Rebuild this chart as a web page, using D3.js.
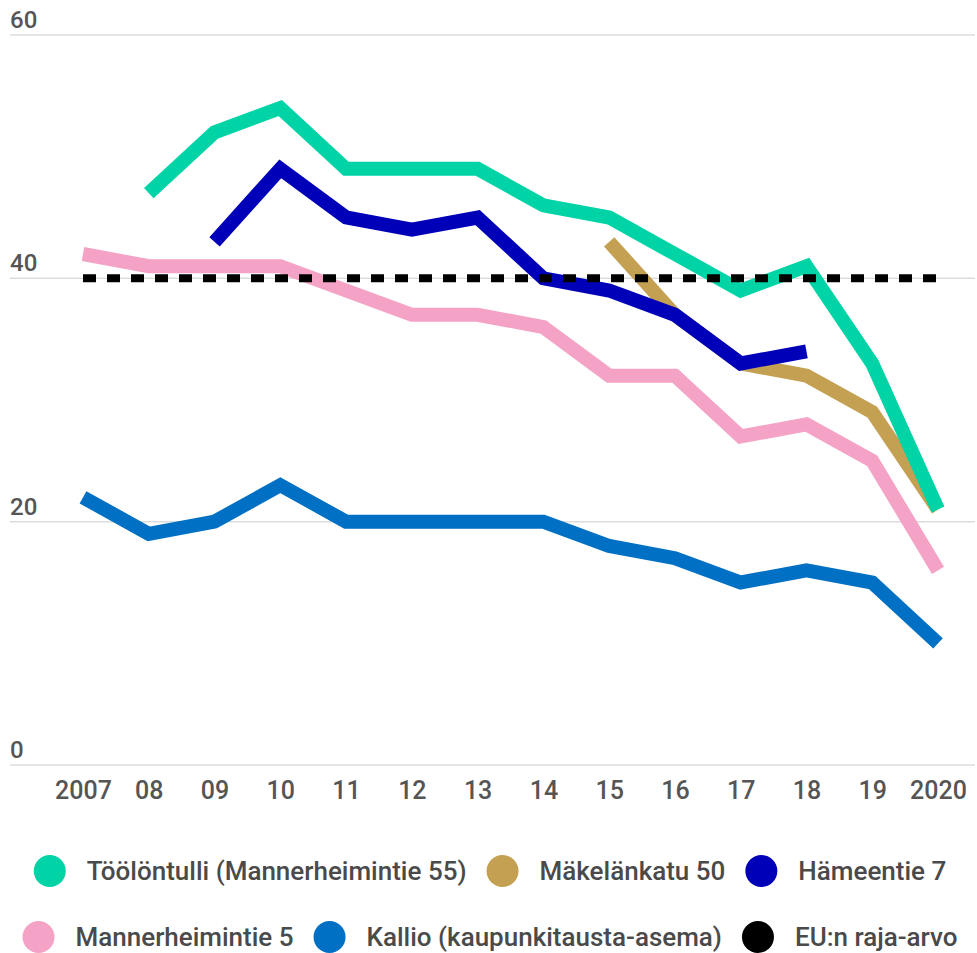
<!DOCTYPE html>
<html>
<head>
<meta charset="utf-8">
<script src="https://cdn.jsdelivr.net/npm/d3@7"></script>
<style>
  body { margin: 0; background: #fff; }
  svg text { font-family: Roboto, "Noto Sans", sans-serif; font-weight: 500; }
</style>
</head>
<body>
<svg id="chart"></svg>
<script>
// years and tick labels
const years = [2007, 2008, 2009, 2010, 2011, 2012, 2013, 2014, 2015, 2016, 2017, 2018, 2019, 2020];
const yearLabels = ["2007", "08", "09", "10", "11", "12", "13", "14", "15", "16", "17", "18", "19", "2020"];
const yTicks = [0, 20, 40, 60];

// series values (null = no measurement)
const toolontulli = [null, 47, 52, 54, 49, 49, 49, 46, 45, 42, 39, 41, 33, 21];
const makelankatu = [null, null, null, null, null, null, null, null, 43, 37, 33, 32, 29, 21];
const hameentie   = [null, null, 43, 49, 45, 44, 45, 40, 39, 37, 33, 34, null, null];
const mannerheimintie5 = [42, 41, 41, 41, 39, 37, 37, 36, 32, 32, 27, 28, 25, 16];
const kallio      = [22, 19, 20, 23, 20, 20, 20, 20, 18, 17, 15, 16, 15, 10];
const euLimit     = [40, 40, 40, 40, 40, 40, 40, 40, 40, 40, 40, 40, 40, 40];

const seriesNames = ["Töölöntulli (Mannerheimintie 55)", "Mäkelänkatu 50", "Hämeentie 7",
                     "Mannerheimintie 5", "Kallio (kaupunkitausta-asema)", "EU:n raja-arvo"];
const seriesColors = ["#00d4a6", "#c4a052", "#0000b8", "#f4a3c7", "#0070c4", "#000000"];
const seriesValues = [toolontulli, makelankatu, hameentie, mannerheimintie5, kallio, euLimit];

const W = 977, H = 953;
const svg = d3.select("#chart").attr("width", W).attr("height", H);

const x = d3.scalePoint().domain(years).range([83, 938]);
const y = d3.scaleLinear().domain([0, 60]).range([765, 35]);

// grid + y labels
const grid = svg.append("g");
grid.selectAll("line")
    .data(yTicks)
    .enter()
    .append("line")
    .attr("x1", 10).attr("x2", 975)
    .attr("y1", d => y(d)).attr("y2", d => y(d))
    .attr("stroke", "#dcdcdc")
    .attr("stroke-width", 1.5);
grid.selectAll("text")
    .data(yTicks)
    .enter()
    .append("text")
    .attr("x", 10)
    .attr("y", d => y(d) - 7)
    .attr("font-size", 24)
    .attr("fill", "#555")
    .text(d => d);

// x axis labels
const xAxis = d3.axisBottom(x).tickSize(0).tickFormat((d, i) => yearLabels[i]);
const xg = svg.append("g").attr("transform", "translate(0,765)").call(xAxis);
xg.select(".domain").remove();
xg.selectAll("text")
    .attr("font-family", "Roboto, sans-serif")
    .attr("font-size", 25)
    .attr("fill", "#555")
    .attr("dy", 0)
    .attr("y", 34);

// lines (drawing order: bottom first)
const line = d3.line()
    .defined(d => d.v != null)
    .x(d => x(d.year))
    .y(d => y(d.v));

const drawOrder = [4, 3, 1, 2, 0, 5];
drawOrder.forEach(i => {
    const pts = years.map((yr, j) => ({ year: yr, v: seriesValues[i][j] }));
    const path = svg.append("path")
        .attr("d", line(pts))
        .attr("fill", "none")
        .attr("stroke", seriesColors[i])
        .attr("stroke-linejoin", "miter")
        .attr("stroke-linecap", "butt");
    if (i === 5) {
        path.attr("stroke-width", 8).attr("stroke-dasharray", "13 11");
    } else {
        path.attr("stroke-width", 14);
    }
});

// legend
const legendRows = [[0, 1, 2], [3, 4, 5]];
const rowY = [871, 937];
const r = 16, gapText = 21, gapItem = 20;
legendRows.forEach((row, ri) => {
    const g = svg.append("g");
    const items = row.map(i => {
        const t = g.append("text")
            .attr("font-size", 26)
            .attr("fill", "#4a4a4a")
            .attr("dominant-baseline", "central")
            .attr("y", rowY[ri])
            .text(seriesNames[i]);
        return { i, t, w: t.node().getComputedTextLength() };
    });
    const total = d3.sum(items, d => 2 * r + gapText + d.w) + gapItem * (items.length - 1);
    let cx = 490 - total / 2;
    items.forEach(d => {
        g.append("circle")
            .attr("cx", cx + r)
            .attr("cy", rowY[ri])
            .attr("r", r)
            .attr("fill", seriesColors[d.i]);
        d.t.attr("x", cx + 2 * r + gapText);
        cx += 2 * r + gapText + d.w + gapItem;
    });
});
</script>
</body>
</html>
